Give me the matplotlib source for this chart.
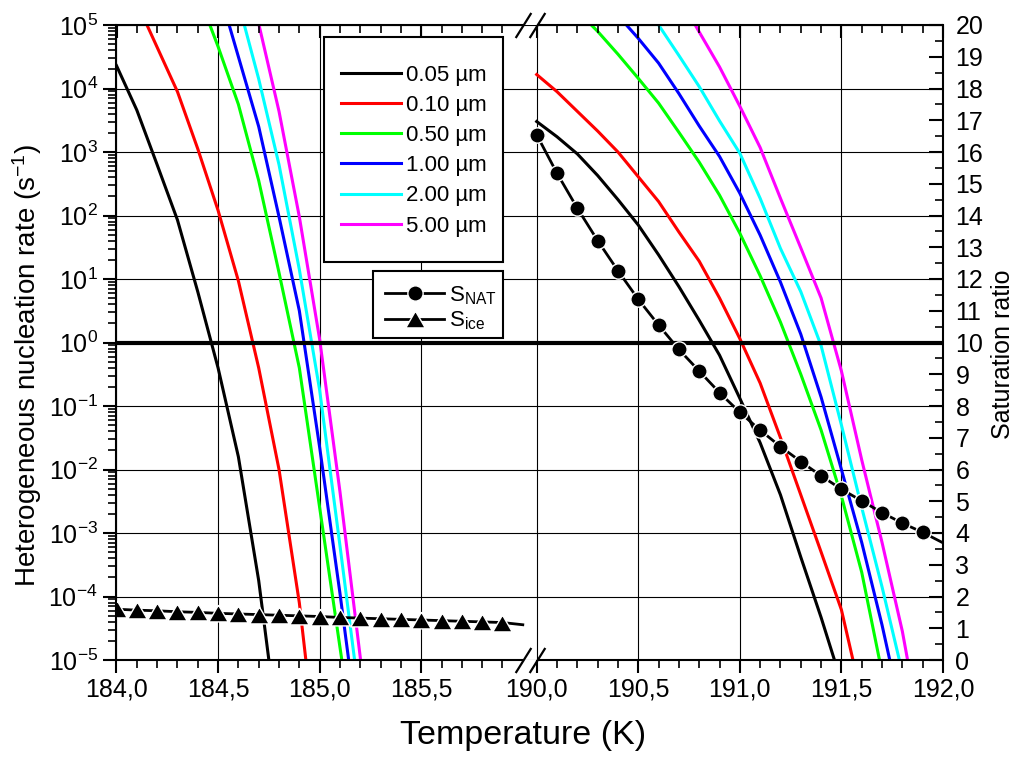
import numpy as np
import matplotlib
matplotlib.use("Agg")
import matplotlib.pyplot as plt
import matplotlib.transforms as mtransforms
from matplotlib.path import Path
from matplotlib.lines import Line2D
from matplotlib.patches import Rectangle
from matplotlib.ticker import LogLocator, MultipleLocator, NullFormatter, FixedLocator

plt.rcParams['font.family'] = ['Liberation Sans', 'DejaVu Sans']
plt.rcParams['mathtext.default'] = 'regular'

# ---------------------------------------------------------------- data
RADII = ["0.05 µm", "0.10 µm", "0.50 µm", "1.00 µm", "2.00 µm", "5.00 µm"]
COLORS = ["#000000", "#ff0000", "#00ff00", "#0000ff", "#00ffff", "#ff00ff"]

# Ice branch (184-186 K): temperatures (K) and log10 of the nucleation rate (s^-1)
T_ICE_005 = [184.0, 184.1, 184.2, 184.3, 184.4, 184.5, 184.6, 184.7, 184.8]
LOGJ_ICE_005 = [4.36, 3.66, 2.80, 1.93, 0.80, -0.40, -1.80, -3.75, -6.25]
T_ICE_010 = [184.1, 184.2, 184.3, 184.4, 184.5, 184.6, 184.7, 184.8, 184.9, 185.0]
LOGJ_ICE_010 = [5.35, 4.65, 3.95, 3.05, 2.08, 0.97, -0.40, -2.00, -4.10, -6.90]
T_ICE_050 = [184.4, 184.5, 184.6, 184.7, 184.8, 184.9, 185.0, 185.1, 185.2]
LOGJ_ICE_050 = [5.50, 4.66, 3.75, 2.55, 1.10, -0.40, -2.60, -4.80, -7.00]
T_ICE_100 = [184.5, 184.6, 184.7, 184.8, 184.9, 185.0, 185.1, 185.2]
LOGJ_ICE_100 = [5.60, 4.50, 3.40, 1.98, 0.50, -1.65, -3.95, -6.40]
T_ICE_200 = [184.6, 184.7, 184.8, 184.9, 185.0, 185.1, 185.2]
LOGJ_ICE_200 = [5.35, 4.15, 2.80, 1.15, -0.75, -3.20, -5.70]
T_ICE_500 = [184.7, 184.8, 184.9, 185.0, 185.1, 185.2, 185.3]
LOGJ_ICE_500 = [5.02, 3.64, 1.98, 0.05, -2.35, -4.96, -7.80]

# NAT branch (190-192 K)
T_NAT_005 = [190.0, 190.1, 190.2, 190.3, 190.4, 190.5, 190.6, 190.7, 190.8, 190.9,
             191.0, 191.1, 191.2, 191.3, 191.4, 191.5]
LOGJ_NAT_005 = [3.48, 3.24, 2.97, 2.63, 2.25, 1.85, 1.38, 0.88, 0.35, -0.20,
                -0.88, -1.58, -2.40, -3.38, -4.33, -5.35]
T_NAT_010 = [190.0, 190.1, 190.2, 190.3, 190.4, 190.5, 190.6, 190.7, 190.8, 190.9,
             191.0, 191.1, 191.2, 191.3, 191.4, 191.5, 191.6]
LOGJ_NAT_010 = [4.22, 3.95, 3.64, 3.33, 3.00, 2.61, 2.22, 1.74, 1.28, 0.70,
                0.06, -0.64, -1.50, -2.40, -3.30, -4.21, -5.60]
T_NAT_050 = [190.2, 190.3, 190.4, 190.5, 190.6, 190.7, 190.8, 190.9, 191.0,
             191.1, 191.2, 191.3, 191.4, 191.5, 191.6, 191.7]
LOGJ_NAT_050 = [5.22, 4.90, 4.54, 4.16, 3.77, 3.31, 2.84, 2.32, 1.72,
                1.05, 0.32, -0.50, -1.38, -2.42, -3.62, -5.20]
T_NAT_100 = [190.4, 190.5, 190.6, 190.7, 190.8, 190.9, 191.0, 191.1, 191.2,
             191.3, 191.4, 191.5, 191.6, 191.7, 191.8]
LOGJ_NAT_100 = [5.15, 4.79, 4.40, 3.92, 3.41, 2.93, 2.35, 1.69, 0.95,
                0.13, -0.86, -2.00, -3.15, -4.45, -5.90]
T_NAT_200 = [190.5, 190.6, 190.7, 190.8, 190.9, 191.0, 191.1, 191.2, 191.3,
             191.4, 191.5, 191.6, 191.7, 191.8]
LOGJ_NAT_200 = [5.40, 5.00, 4.52, 4.03, 3.49, 2.98, 2.27, 1.48, 0.80,
                -0.05, -1.30, -2.60, -3.85, -5.20]
T_NAT_500 = [190.7, 190.8, 190.9, 191.0, 191.1, 191.2, 191.3, 191.4, 191.5,
             191.6, 191.7, 191.8, 191.9]
LOGJ_NAT_500 = [5.45, 4.89, 4.34, 3.72, 3.07, 2.27, 1.49, 0.70, -0.45,
                -1.85, -3.15, -4.55, -6.30]

# Saturation ratios
T_S_ICE = [184.0, 184.1, 184.2, 184.3, 184.4, 184.5, 184.6, 184.7, 184.8, 184.9,
           185.0, 185.1, 185.2, 185.3, 185.4, 185.5, 185.6, 185.7, 185.8, 185.9, 186.0]
S_ICE = [1.60, 1.57, 1.55, 1.52, 1.50, 1.47, 1.45, 1.43, 1.41, 1.39,
         1.37, 1.34, 1.32, 1.30, 1.28, 1.26, 1.24, 1.22, 1.20, 1.18, 1.11]
T_S_NAT = [190.0, 190.1, 190.2, 190.3, 190.4, 190.5, 190.6, 190.7, 190.8, 190.9,
           191.0, 191.1, 191.2, 191.3, 191.4, 191.5, 191.6, 191.7, 191.8, 191.9, 192.0]
S_NAT = [16.54, 15.33, 14.23, 13.21, 12.26, 11.36, 10.55, 9.78, 9.10, 8.42,
         7.80, 7.24, 6.72, 6.25, 5.80, 5.38, 5.01, 4.64, 4.31, 4.02, 3.69]

X_MAJOR = [184.0, 184.5, 185.0, 185.5, 190.0, 190.5, 191.0, 191.5, 192.0]
J_THRESHOLD = 1.0

ICE_CURVES = [(T_ICE_005, LOGJ_ICE_005), (T_ICE_010, LOGJ_ICE_010), (T_ICE_050, LOGJ_ICE_050),
              (T_ICE_100, LOGJ_ICE_100), (T_ICE_200, LOGJ_ICE_200), (T_ICE_500, LOGJ_ICE_500)]
NAT_CURVES = [(T_NAT_005, LOGJ_NAT_005), (T_NAT_010, LOGJ_NAT_010), (T_NAT_050, LOGJ_NAT_050),
              (T_NAT_100, LOGJ_NAT_100), (T_NAT_200, LOGJ_NAT_200), (T_NAT_500, LOGJ_NAT_500)]

# ------------------------------------------------- broken temperature scale
BREAK_LO, BREAK_HI, GAP = 186.0, 190.0, 0.0684


def fwd(t):
    t = np.asarray(t, dtype=float)
    return np.where(t <= BREAK_LO, t - 184.0,
                    np.where(t >= BREAK_HI, t - BREAK_HI + 2.0 + GAP,
                             2.0 + (t - BREAK_LO) * GAP / (BREAK_HI - BREAK_LO)))


def inv(u):
    u = np.asarray(u, dtype=float)
    return np.where(u <= 2.0, u + 184.0,
                    np.where(u >= 2.0 + GAP, u - 2.0 - GAP + BREAK_HI,
                             BREAK_LO + (u - 2.0) * (BREAK_HI - BREAK_LO) / GAP))


W, H = 1020, 758
fig = plt.figure(figsize=(W / 100, H / 100), dpi=100)
ax = fig.add_axes([116.5 / W, 98 / H, 826.5 / W, 635 / H])
ax.set_xscale('function', functions=(fwd, inv))
ax.set_xlim(184.0, 192.0)
ax.set_yscale('log')
ax.set_ylim(1e-5, 1e5)

# nucleation-rate curves
j_handles = []
for (ti, li), (tn, ln), col in zip(ICE_CURVES, NAT_CURVES, COLORS):
    h, = ax.plot(ti, 10.0 ** np.asarray(li), color=col, lw=2.2, solid_joinstyle='round', zorder=3)
    ax.plot(tn, 10.0 ** np.asarray(ln), color=col, lw=2.2, solid_joinstyle='round', zorder=3)
    j_handles.append(h)
ax.axhline(J_THRESHOLD, color='black', lw=3.0, zorder=4)

# grid
ax.set_axisbelow(True)
ax.grid(True, which='major', axis='both', color='black', lw=0.8)

# x ticks
ax.xaxis.set_major_locator(FixedLocator(X_MAJOR))
minors = [round(184.0 + 0.1 * k, 1) for k in range(1, 20) if k % 5] + \
         [round(190.0 + 0.1 * k, 1) for k in range(1, 20) if k % 5]
ax.xaxis.set_minor_locator(FixedLocator(minors))
ax.set_xticklabels([f"{v:.1f}".replace('.', ',') for v in X_MAJOR])
ax.tick_params(axis='x', which='major', direction='out', length=9.4, width=1.5,
               labelsize=18, pad=3, top=False)
ax.tick_params(axis='x', which='minor', direction='out', length=5.5, width=1.2, top=False)

# y ticks (log)
ax.yaxis.set_major_locator(FixedLocator([10.0 ** k for k in range(-5, 6)]))
ax.set_yticklabels([rf"$10^{{{k}}}$" for k in range(-5, 6)])
ax.yaxis.set_minor_locator(LogLocator(base=10, subs=np.arange(2, 10), numticks=30))
ax.yaxis.set_minor_formatter(NullFormatter())
ax.tick_params(axis='y', which='major', direction='out', length=9.4, width=1.5,
               labelsize=18, pad=4, right=False)
ax.tick_params(axis='y', which='minor', direction='out', length=5.5, width=1.2, right=False)

# saturation ratio axis
ax2 = ax.twinx()
ax2.set_ylim(0, 20)
tri = Path([(0, 0.433), (-0.5, -0.433), (0.5, -0.433), (0, 0.433)])
CIRC_KW = dict(marker='o', ms=11, mfc='black', mec='white', mew=1.0)
TRI_KW = dict(marker=tri, ms=14, mfc='black', mec='white', mew=1.0)
ax2.plot(T_S_NAT, S_NAT, color='black', lw=2.0, markevery=list(range(20)), zorder=5, **CIRC_KW)
ax2.plot(T_S_ICE, S_ICE, color='black', lw=2.0, markevery=list(range(20)), zorder=5, **TRI_KW)
ax2.yaxis.set_major_locator(MultipleLocator(1))
ax2.yaxis.set_minor_locator(MultipleLocator(0.5))
ax2.tick_params(axis='y', which='major', direction='in', length=10, width=1.5,
                labelsize=18, pad=9)
ax2.tick_params(axis='y', which='minor', direction='in', length=5.5, width=1.2)
ax2.xaxis.set_visible(True)
ax2.tick_params(axis='x', which='both', bottom=False, labelbottom=False,
                top=True, labeltop=False, direction='in')
ax2.tick_params(axis='x', which='major', length=9.4, width=1.5)
ax2.tick_params(axis='x', which='minor', length=5.5, width=1.2)

# spines with the axis break
for a in (ax, ax2):
    for s in ('top', 'bottom'):
        a.spines[s].set_visible(False)
    for s in ('left', 'right'):
        a.spines[s].set_linewidth(1.5)
ax.spines['right'].set_visible(False)
ax2.spines['left'].set_visible(False)

blend = mtransforms.blended_transform_factory(ax.transData, ax.transAxes)
for yy in (0.0, 1.0):
    for x0, x1 in ((184.0, BREAK_LO), (BREAK_HI, 192.0)):
        ax.plot([x0, x1], [yy, yy], color='black', lw=1.5, solid_capstyle='butt',
                transform=blend, clip_on=False, zorder=6)
slash = Path([(-5.0, -8.0), (5.0, 8.0)], [Path.MOVETO, Path.LINETO])
for yy in (0.0, 1.0):
    ax.plot([BREAK_LO, BREAK_HI], [yy, yy], linestyle='none', marker=slash, ms=18,
            mec='black', mew=1.6, transform=blend, clip_on=False, zorder=7)

# labels
ax.set_xlabel("Temperature (K)", fontsize=24.5)
ax.xaxis.set_label_coords(0.4918, -0.0945)
ax.set_ylabel(r"Heterogeneous nucleation rate (s$^{-1}$)", fontsize=20)
ax.yaxis.set_label_coords(-0.0877, 0.4646)
ax2.set_ylabel("Saturation ratio", fontsize=18)
ax2.yaxis.set_label_coords(1.058, 0.4819)


# legends: white boxes with black frames, entries placed inside
def legend_box(axes, x0, y0, x1, y1):
    r = Rectangle((x0 / W, 1 - y1 / H), (x1 - x0) / W, (y1 - y0) / H,
                  transform=fig.transFigure, facecolor='white', edgecolor='black',
                  lw=1.5, zorder=9, clip_on=False)
    axes.add_patch(r)


legend_box(ax, 324, 37, 503, 262)
leg1 = ax.legend(j_handles, RADII, loc='upper left',
                 bbox_to_anchor=(341 / W, 1 - 64.6 / H), bbox_transform=fig.transFigure,
                 borderaxespad=0, borderpad=0, fontsize=16, frameon=False,
                 handlelength=2.7, handletextpad=0.22, labelspacing=0.414)
leg1.set_zorder(10)

legend_box(ax2, 373, 271, 503, 338)
s_handles = [Line2D([], [], color='black', lw=2.0, **CIRC_KW),
             Line2D([], [], color='black', lw=2.0, **TRI_KW)]
leg2 = ax2.legend(s_handles, ["S$_{NAT}$", "S$_{ice}$"], loc='upper left',
                  bbox_to_anchor=(385 / W, 1 - 284 / H), bbox_transform=fig.transFigure,
                  borderaxespad=0, borderpad=0, fontsize=16, frameon=False,
                  handlelength=2.66, handletextpad=0.22, labelspacing=0.14, numpoints=1)
leg2.set_zorder(10)

fig.savefig("out.png", dpi=100)
